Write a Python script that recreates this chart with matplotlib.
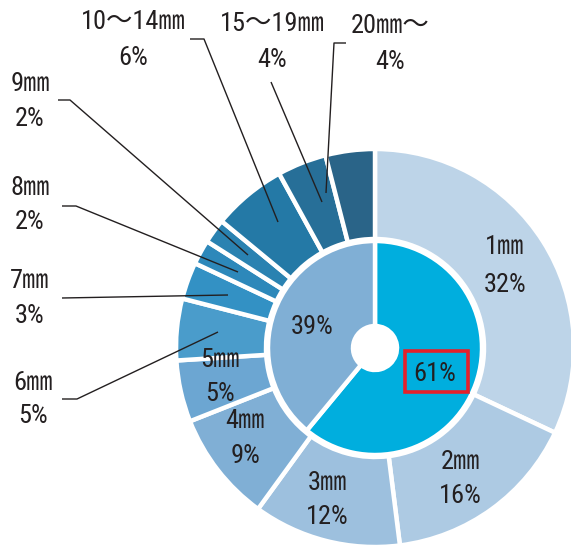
import matplotlib
matplotlib.use("Agg")
import matplotlib.pyplot as plt
from matplotlib.patches import Circle, Rectangle

# Size-class breakdown (outer ring) and grouped share (inner ring)
outer_labels = ["1㎜", "2㎜", "3㎜", "4㎜", "5㎜", "6㎜", "7㎜", "8㎜", "9㎜",
                "10～14㎜", "15～19㎜", "20㎜～"]
outer_values = [32, 16, 12, 9, 5, 5, 3, 2, 2, 6, 4, 4]
outer_colors = ["#BDD4E8", "#ADCAE3", "#9DC0DE", "#80AFD5", "#6CA6D2", "#4A9CCB",
                "#3391C4", "#2D88BA", "#2A82B1", "#2479A6", "#276F98", "#2A6488"]

inner_labels = ["61%", "39%"]
inner_values = [61, 39]
inner_colors = ["#00AEDE", "#80AFD5"]

W, H = 571, 548
fig = plt.figure(figsize=(W / 100, H / 100), dpi=100)
ax = fig.add_axes([0, 0, 1, 1])

def Y(y):
    return H - y

cx, cy = 375, Y(348)
R_out, R_in, R_hole = 199, 109, 22

ax.pie(outer_values, colors=outer_colors, startangle=90, counterclock=False,
       radius=R_out, center=(cx, cy), frame=True,
       wedgeprops=dict(width=R_out - R_in, edgecolor="white", linewidth=3.2))
ax.pie(inner_values, colors=inner_colors, startangle=90, counterclock=False,
       radius=R_in - 2, center=(cx, cy), frame=True,
       wedgeprops=dict(width=R_in - 2 - R_hole, edgecolor="white", linewidth=3.2))
ax.add_patch(Circle((cx, cy), R_hole, facecolor="white", edgecolor="none", zorder=5))
ax.set_xlim(0, W)
ax.set_ylim(0, H)
ax.set_aspect("equal")
ax.axis("off")

fam = ["Roboto Condensed", "Noto Sans CJK JP", "DejaVu Sans"]
tc = "#231F20"
fs = 19

def lab(x, y, text, size=fs):
    ax.text(x, Y(y), text, ha="center", va="center", fontsize=size,
            family=fam, color=tc, zorder=6)

# label text: name on top line, share below
pos = {
    "1㎜": (505, 247, 285),
    "2㎜": (460, 462, 496),
    "3㎜": (327, 483, 517),
    "4㎜": (245, 421, 456),
    "5㎜": (220, 360, 394),
    "6㎜": (33, 383, 416),
    "7㎜": (30, 281, 316),
    "8㎜": (30, 188, 222),
    "9㎜": (30, 84, 119),
    "10～14㎜": (133, 22, 58),
    "15～19㎜": (272, 24, 60),
    "20㎜～": (390, 26, 62),
}
for name, v in zip(outer_labels, outer_values):
    x, y1, y2 = pos[name]
    lab(x, y1, name)
    lab(x, y2, f"{v}%")

lab(312, 327, inner_labels[1])
lab(435, 374, inner_labels[0])
ax.add_patch(Rectangle((405, Y(392)), 63, 41, fill=False, edgecolor="#E5202A",
                       linewidth=2.6, zorder=6))

# leader lines for the narrow wedges
leaders = [
    [(190, 39), (204, 39), (278, 222)],
    [(271, 82), (322, 202)],
    [(346, 43), (334, 43), (326, 193)],
    [(58, 100), (70, 100), (248, 255)],
    [(62, 206), (76, 206), (238, 272)],
    [(62, 298), (228, 295)],
    [(62, 399), (77, 399), (218, 332)],
]
for pts in leaders:
    xs = [p[0] for p in pts]
    ys = [Y(p[1]) for p in pts]
    ax.plot(xs, ys, color=tc, linewidth=1.0, zorder=6, solid_capstyle="butt")

fig.savefig("out.png", dpi=100)
